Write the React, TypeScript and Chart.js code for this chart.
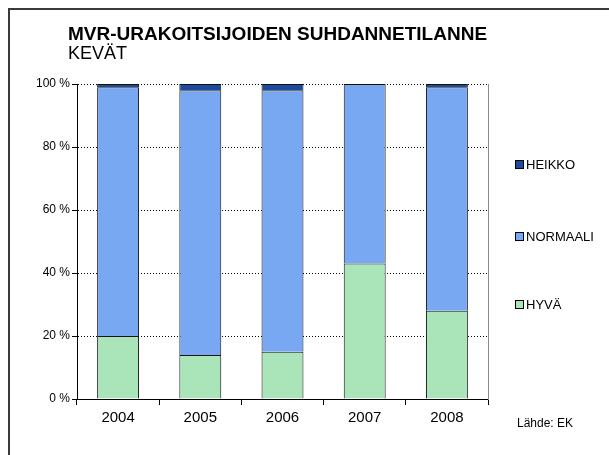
import React, { useEffect, useRef } from "react";
import { Chart, registerables } from "chart.js";

Chart.register(...registerables);

const categories = ["2004", "2005", "2006", "2007", "2008"];
const hyva = [20, 14, 15, 43, 28];
const normaali = [79, 84, 83, 57, 71];
const heikko = [1, 2, 2, 0, 1];
const seriesNames = ["HYVÄ", "NORMAALI", "HEIKKO"];
const titleText = "MVR-URAKOITSIJOIDEN SUHDANNETILANNE";
const subtitleText = "KEVÄT";
const sourceText = "Lähde: EK";

const FONT = "'Liberation Sans', Arial, sans-serif";

const decorPlugin = {
  id: "decor",
  beforeDraw(chart: any) {
    const ctx = chart.ctx;
    ctx.save();
    ctx.fillStyle = "#ffffff";
    ctx.fillRect(0, 0, chart.width, chart.height);
    ctx.strokeStyle = "#3a3a3a";
    ctx.lineWidth = 2;
    ctx.beginPath();
    ctx.moveTo(9, chart.height);
    ctx.lineTo(9, 9);
    ctx.lineTo(chart.width, 9);
    ctx.stroke();
    ctx.restore();
  },
  afterDraw(chart: any) {
    const ctx = chart.ctx;
    ctx.save();
    ctx.fillStyle = "#000";
    ctx.textBaseline = "alphabetic";
    ctx.textAlign = "left";
    ctx.font = `bold 19px ${FONT}`;
    ctx.fillText(titleText, 68, 40);
    ctx.font = `18px ${FONT}`;
    ctx.fillText(subtitleText, 68, 59);
    ctx.font = `12px ${FONT}`;
    ctx.fillText(sourceText, 517, 427);

    // legend
    const ys = [164, 236, 304];
    const ds = chart.data.datasets;
    const order = [2, 1, 0];
    ctx.font = `13px ${FONT}`;
    ctx.textBaseline = "middle";
    order.forEach((di: number, i: number) => {
      const d = ds[di];
      const y = ys[i];
      ctx.fillStyle = d.backgroundColor;
      ctx.fillRect(515.5, y - 3.5, 8, 8);
      ctx.strokeStyle = "#000";
      ctx.lineWidth = 1;
      ctx.strokeRect(515.5, y - 3.5, 8, 8);
      ctx.fillStyle = "#000";
      ctx.fillText(d.label, 526, y + 1);
    });
    ctx.restore();
  },
};

const bw = (c: any) => (c.raw === 0 ? 0 : 1);

export default function App() {
  const ref = useRef<HTMLCanvasElement | null>(null);
  useEffect(() => {
    if (!ref.current) return;
    const chart = new Chart(ref.current, {
      type: "bar",
      data: {
        labels: categories,
        datasets: [
          { label: seriesNames[0], data: hyva, backgroundColor: "#a9e5b9", borderColor: "#111", borderWidth: bw, categoryPercentage: 0.51, barPercentage: 1 },
          { label: seriesNames[1], data: normaali, backgroundColor: "#78a8f2", borderColor: "#111", borderWidth: bw, categoryPercentage: 0.51, barPercentage: 1 },
          { label: seriesNames[2], data: heikko, backgroundColor: "#1d4a9e", borderColor: "#111", borderWidth: bw, categoryPercentage: 0.51, barPercentage: 1 },
        ],
      },
      options: {
        responsive: false,
        animation: false,
        devicePixelRatio: 1,
        layout: { padding: { left: 0, top: 84, right: 121, bottom: 0 } },
        plugins: { legend: { display: false }, title: { display: false }, tooltip: { enabled: false } },
        scales: {
          x: {
            stacked: true,
            offset: true,
            grid: { display: true, offset: true, drawOnChartArea: false, drawTicks: true, tickLength: 6, color: "#000", lineWidth: 1 },
            border: { display: true, color: "#000", width: 1 },
            ticks: { color: "#000", font: { family: FONT, size: 15 }, padding: 4, maxRotation: 0 },
            afterFit: (s: any) => { s.height = 56; },
          },
          y: {
            stacked: true,
            min: 0,
            max: 100,
            grid: { display: true, color: "#000", lineWidth: 1, drawTicks: true, tickLength: 5 },
            border: { display: true, color: "#000", width: 1, dash: [1, 2] },
            ticks: { stepSize: 20, color: "#000", font: { family: FONT, size: 12 }, padding: 2, callback: (v: any) => `${v} %` },
            afterFit: (s: any) => { s.width = 77; },
          },
          y2: {
            position: "right",
            min: 0,
            max: 100,
            grid: { display: false },
            border: { display: true, color: "#8a8a8a", width: 1 },
            ticks: { display: false },
            afterFit: (s: any) => { s.width = 0; },
          },
        },
      },
      plugins: [decorPlugin],
    } as any);
    return () => chart.destroy();
  }, []);
  return (
    <canvas
      ref={ref}
      width={609}
      height={455}
      style={{ position: "fixed", left: 0, top: 0, width: 609, height: 455 }}
    />
  );
}
